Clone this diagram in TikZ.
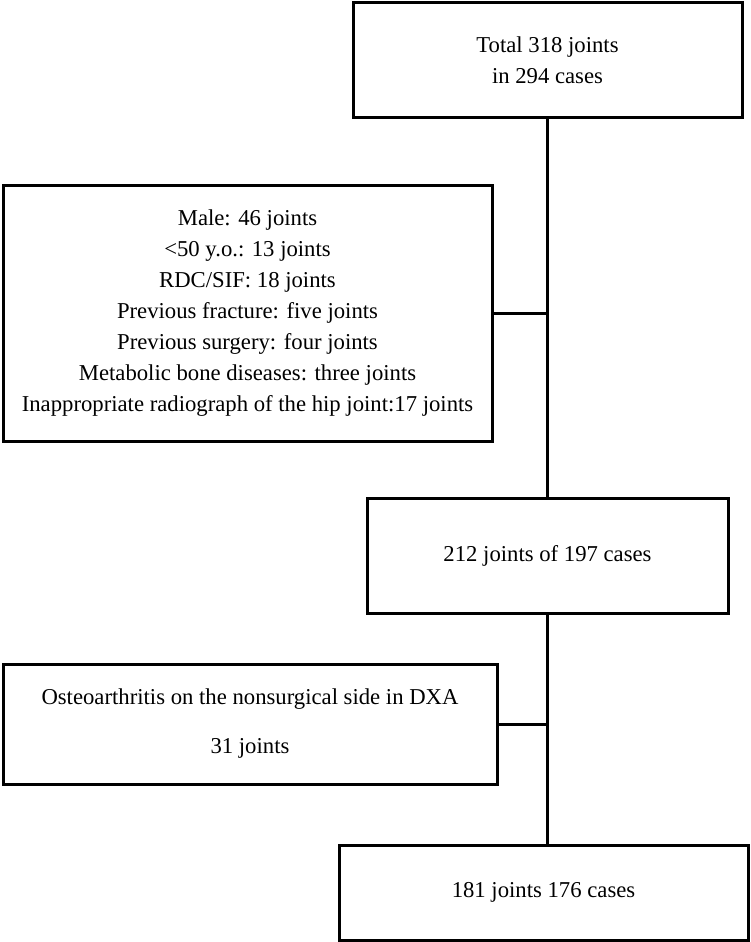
\documentclass[tikz,border=0pt]{standalone}
\usepackage{fontspec}
\setmainfont{Liberation Serif}
\usepackage{tikz}
\usetikzlibrary{positioning,calc}

\tikzset{
  box/.style={draw,line width=3pt,fill=white,align=center,inner sep=0pt,
    font=\fontsize{22.7}{31}\selectfont},
  link/.style={line width=3.5pt}
}

\begin{document}
\begin{tikzpicture}[x=1pt,y=-1pt]
  \useasboundingbox (0,0) rectangle (750,942);
  \foreach \nm/\x/\y/\w/\h/\lab in {
     total/547.5/60/389/114/{Total 318 joints\\ in 294 cases},
     excl/247.5/313/489/256/{Male: 46 joints\\ <50 y.o.: 13 joints\\ RDC/SIF: 18 joints\\ Previous fracture: five joints\\ Previous surgery: four joints\\ Metabolic bone diseases: three joints\\ Inappropriate radiograph of the hip joint:17 joints},
     mid/547.5/555.5/361/115/{212 joints of 197 cases},
     oa/250/724/494/120/{Osteoarthritis on the nonsurgical side in DXA\\[18pt] 31 joints},
     final/543.5/892.5/409/95/{181 joints 176 cases}}
  { \node[box,minimum width=\w pt,minimum height=\h pt] (\nm) at (\x,\y) {\lab}; }
  % trunk and side branches
  \draw[link] (total.south) -- (mid.north);
  \draw[link] (mid.south) -- (mid.south |- final.north);
  \draw[line width=3pt] (excl.east) -- (excl.east -| total.south);
  \draw[line width=3pt] (oa.east) -- (oa.east -| mid.south);
\end{tikzpicture}
\end{document}
